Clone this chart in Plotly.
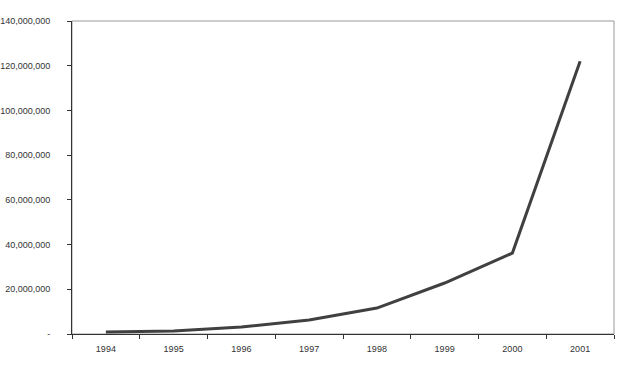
import plotly.graph_objects as go

years = ["1994", "1995", "1996", "1997", "1998", "1999", "2000", "2001"]
values = [900000, 1300000, 3100000, 6300000, 11600000, 22800000, 36200000, 122000000]
y_tickvals = [0, 20000000, 40000000, 60000000, 80000000, 100000000, 120000000, 140000000]
y_ticktext = ["-", "20,000,000", "40,000,000", "60,000,000", "80,000,000",
              "100,000,000", "120,000,000", "140,000,000"]

fig = go.Figure()
fig.add_trace(go.Scatter(x=years, y=values, mode="lines",
                         line=dict(color="#404040", width=3), showlegend=False))

fig.add_shape(type="rect", xref="paper", yref="paper", x0=0, y0=0, x1=1, y1=1,
              line=dict(color="#999999", width=1), layer="below")

fig.update_layout(
    width=618, height=380,
    margin=dict(l=72, r=4, t=21, b=46),
    paper_bgcolor="white", plot_bgcolor="white",
    font=dict(family="Liberation Sans, Arial, sans-serif", size=9, color="#333333"),
    xaxis=dict(type="category", tickson="boundaries", ticks="outside", ticklen=4,
               tickcolor="#333333", showline=True, linecolor="#333333", linewidth=1,
               showgrid=False, zeroline=False, range=[-0.5, 7.5], automargin=False,
               tickfont=dict(size=9), ticklabelstandoff=6),
    yaxis=dict(range=[0, 140000000], tickvals=y_tickvals, ticktext=y_ticktext,
               ticks="outside", ticklen=4, tickcolor="#333333", showline=True,
               linecolor="#333333", linewidth=1, showgrid=False, zeroline=False,
               automargin=False, tickfont=dict(size=9), ticklabelstandoff=15),
)

fig.write_html("out.html")
